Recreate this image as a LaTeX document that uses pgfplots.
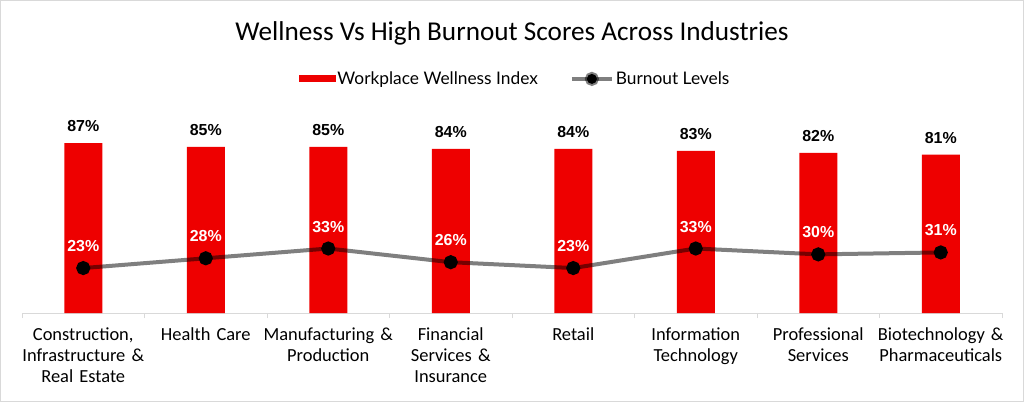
\documentclass[border=0pt]{standalone}
\usepackage{fontspec}
\setmainfont{Carlito}
\newfontfamily\labelfont{Liberation Sans}
\newfontfamily\legendfont{Lato}
\usepackage{pgfplots}
\pgfplotsset{compat=1.18}
\definecolor{barred}{HTML}{EE0000}
\definecolor{frame}{HTML}{D9D9D9}

\begin{document}
\begin{tikzpicture}
\begin{axis}[
    at={(0,0)}, anchor=south west,
    scale only axis, width=980bp, height=195.4bp,
    xmin=-0.5, xmax=7.5, ymin=0, ymax=100,
    axis y line=none, axis x line*=bottom,
    x axis line style={draw=frame, line width=1bp, -},
    xtick={0,...,7},
    major x tick style={draw=none},
    minor xtick={-0.5,0.5,...,7.5},
    minor tick length=5bp, tick align=outside,
    minor x tick style={draw=frame, line width=1bp},
    xticklabels={{Construction,\\Infrastructure \&\\Real Estate},
                 {Health Care},
                 {Manufacturing \&\\Production},
                 {Financial\\Services \&\\Insurance},
                 {Retail},
                 {Information\\Technology},
                 {Professional\\Services},
                 {Biotechnology \&\\Pharmaceuticals}},
    x tick label style={font=\fontsize{18.5}{21}\selectfont, align=center,
                        text width=150bp, anchor=north, yshift=-7bp},
    /pgf/number format/assume math mode=true,
    clip=false,
    legend columns=2,
    legend style={at={(0.503,1.198)}, anchor=center, draw=none,
                  font=\legendfont\fontsize{17.4}{20}\selectfont,
                  /tikz/every even column/.append style={column sep=30bp}},
]
\addplot[ybar, bar width=38bp, fill=barred, draw=none,
    nodes near coords={\pgfmathprintnumber{\pgfplotspointmeta}\%},
    nodes near coords style={font=\labelfont\bfseries\fontsize{16}{18}\selectfont,
                             text=black, anchor=south, yshift=8bp},
    legend image code/.code={\fill[barred] (0bp,-3.5bp) rectangle (37bp,3.5bp);}]
    coordinates {(0,87) (1,85) (2,85) (3,84) (4,84) (5,83) (6,82) (7,81)};
\addlegendentry{Workplace Wellness Index}
\addplot[black, draw opacity=0.5, line width=4bp,
    mark=*, mark size=5bp, mark options={solid, fill=black, draw=black, draw opacity=1},
    nodes near coords={\pgfmathprintnumber{\pgfplotspointmeta}\%},
    nodes near coords style={font=\labelfont\bfseries\fontsize{16}{18}\selectfont,
                             text=white, anchor=south, yshift=11bp},
    legend image code/.code={
        \draw[black, draw opacity=0.5, line width=4bp] (0bp,0bp) -- (40bp,0bp);
        \fill[black] (20bp,0bp) circle (5bp);}]
    coordinates {(0,23) (1,28) (2,33) (3,26) (4,23) (5,33) (6,30) (7,31)};
\addlegendentry{Burnout Levels}
\node[font=\fontsize{27.3}{32}\selectfont] at (rel axis cs:0.5,1.433)
    {Wellness Vs High Burnout Scores Across Industries};
\end{axis}
\pgfresetboundingbox
\useasboundingbox (-22bp,-89bp) rectangle (1002bp,313bp);
\draw[frame, line width=1.5bp] (-21.25bp,-88.25bp) rectangle (1001.25bp,312.25bp);
\end{tikzpicture}
\end{document}
